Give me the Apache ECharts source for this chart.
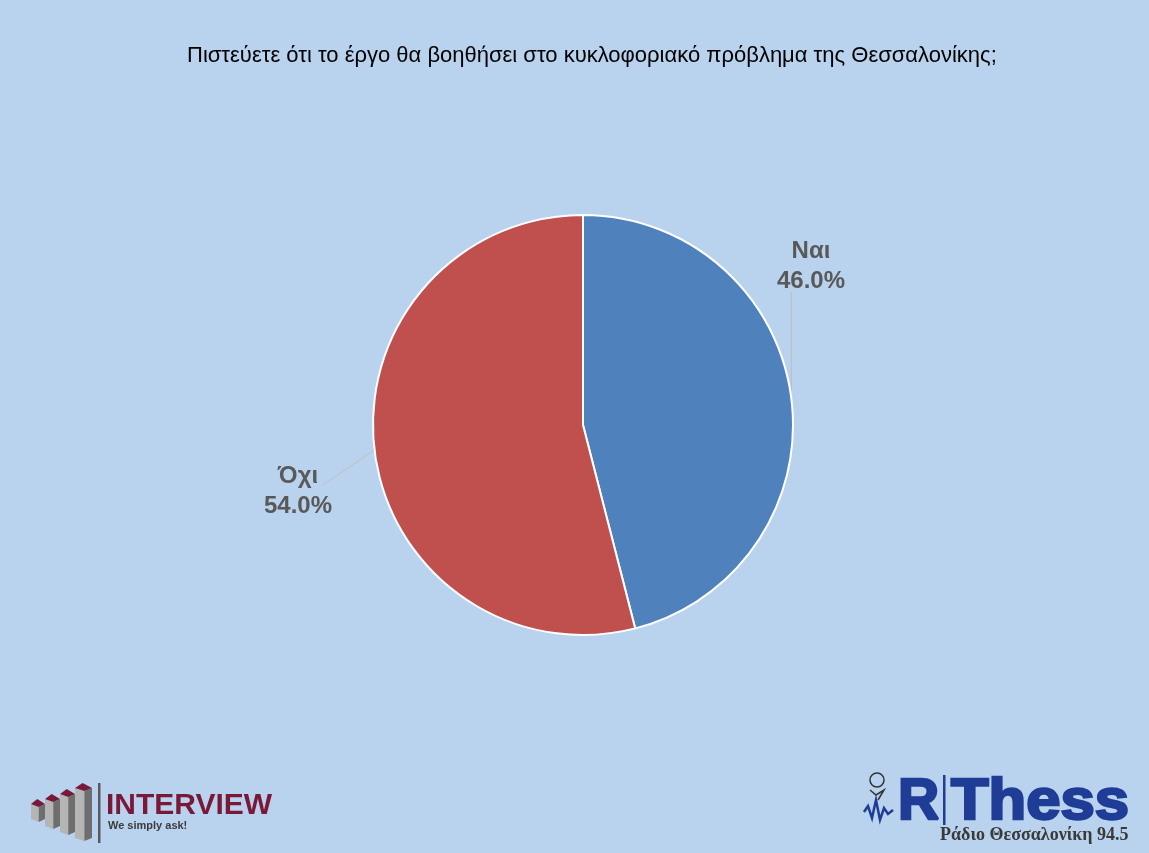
<!DOCTYPE html>
<html>
<head>
<meta charset="utf-8">
<script src="https://cdn.jsdelivr.net/npm/echarts@6/dist/echarts.min.js"></script>
<style>
html,body{margin:0;padding:0;background:#B9D3EE;}
#chart{width:1149px;height:853px;}
</style>
</head>
<body>
<div id="chart"></div>
<script>
// ---- data ----
const categories = ['Ναι', 'Όχι'];
const values = [46.0, 54.0];
const colors = ['#4F81BD', '#C0504D'];
const titleText = 'Πιστεύετε ότι το έργο θα βοηθήσει στο κυκλοφοριακό πρόβλημα της Θεσσαλονίκης;';

// ---- layout ----
const CX = 583, CY = 425, R = 210;
const FONT = '"Liberation Sans", Arial, sans-serif';

const chart = echarts.init(document.getElementById('chart'), null, {renderer: 'canvas'});

function labelLayout(params) {
  if (params.dataIndex === 0) {
    const a = 7.2 * Math.PI / 180;
    const sx = CX + R * Math.cos(a), sy = CY - R * Math.sin(a);
    return {
      x: 811, y: 266, align: 'center', verticalAlign: 'middle',
      labelLinePoints: [[sx, sy], [sx, sy - 50], [sx, 292]]
    };
  } else {
    const a = (180 + 6.8) * Math.PI / 180;
    const sx = CX + R * Math.cos(a), sy = CY - R * Math.sin(a);
    return {
      x: 298, y: 491, align: 'center', verticalAlign: 'middle',
      labelLinePoints: [[sx, sy], [(sx + 323) / 2, (sy + 485) / 2], [323, 485]]
    };
  }
}

const bars = [
  // x, topY, bottomY, width
  [31, 799, 822, 14],
  [45, 794, 829, 15],
  [60, 789, 835, 15],
  [75, 783, 841, 17]
];
const barGraphics = [];
bars.forEach(function (b) {
  const x = b[0], t = b[1], bt = b[2], w = b[3];
  const d = 5;
  barGraphics.push({type: 'polygon', shape: {points: [[x, t + d], [x + w * 0.55, t + d + 3], [x + w * 0.55, bt], [x, bt - 3]]}, style: {fill: '#B5B5B5'}});
  barGraphics.push({type: 'polygon', shape: {points: [[x + w * 0.55, t + d + 3], [x + w, t + d], [x + w, bt - 3], [x + w * 0.55, bt]]}, style: {fill: '#6E6E6E'}});
  barGraphics.push({type: 'polygon', shape: {points: [[x, t + d], [x + w * 0.45, t], [x + w, t + d], [x + w * 0.55, t + d + 3]]}, style: {fill: '#7A1838'}});
});

const option = {
  backgroundColor: '#B9D3EE',
  animation: false,
  graphic: [
    {type: 'text', left: 187, top: 45, style: {text: titleText, font: '22px ' + FONT, fill: '#000000'}},
    // INTERVIEW logo
    ...barGraphics,
    {type: 'rect', shape: {x: 98, y: 783, width: 2.5, height: 60}, style: {fill: '#5A5A5A'}},
    {type: 'text', left: 106, top: 791, style: {text: 'INTERVIEW', font: 'bold 30px ' + FONT, fill: '#7A1838'}},
    {type: 'text', left: 108, top: 820, style: {text: 'We simply ask!', font: 'bold 11px ' + FONT, fill: '#3A3A3A'}},
    // RThess logo
    {type: 'circle', shape: {cx: 877, cy: 780, r: 7}, style: {fill: 'none', stroke: '#333', lineWidth: 1.5}},
    {type: 'polyline', shape: {points: [[864, 812], [868, 806], [872, 818], [876, 800], [880, 820], [884, 808], [888, 814], [893, 810]]}, style: {stroke: '#1F3C96', lineWidth: 2.5, fill: 'none'}},
    {type: 'polyline', shape: {points: [[870, 790], [876, 795], [884, 790], [878, 800]]}, style: {stroke: '#333', lineWidth: 1.5, fill: 'none'}},
    {type: 'text', x: 898, y: 775, scaleX: 1.0, style: {text: 'R', font: '900 57px ' + FONT, fill: '#1F3C96', stroke: '#1F3C96', lineWidth: 2.5}},
    {type: 'rect', shape: {x: 943, y: 775, width: 2.5, height: 50}, style: {fill: '#1F3C96'}},
    {type: 'text', x: 951, y: 775, scaleX: 1.08, style: {text: 'Thess', font: '900 57px ' + FONT, fill: '#1F3C96', stroke: '#1F3C96', lineWidth: 2.5}},
    {type: 'text', left: 940, top: 826, style: {text: 'Ράδιο Θεσσαλονίκη 94.5', font: 'bold 18px "Liberation Serif", "DejaVu Serif", serif', fill: '#3A3A3A'}}
  ],
  series: [{
    type: 'pie',
    center: [CX, CY],
    radius: R,
    startAngle: 90,
    clockwise: true,
    data: categories.map(function (c, i) {
      return {name: c, value: values[i], itemStyle: {color: colors[i]}};
    }),
    itemStyle: {borderColor: '#FFFFFF', borderWidth: 2},
    label: {
      show: true,
      position: 'outside',
      formatter: function (p) { return p.name + '\n' + p.value.toFixed(1) + '%'; },
      fontFamily: FONT,
      fontSize: 24,
      fontWeight: 'bold',
      color: '#595959',
      lineHeight: 30,
      align: 'center'
    },
    labelLine: {show: true, lineStyle: {color: '#BFBFBF', width: 1}},
    labelLayout: labelLayout,
    emphasis: {disabled: true}
  }]
};
chart.setOption(option);
</script>
</body>
</html>
